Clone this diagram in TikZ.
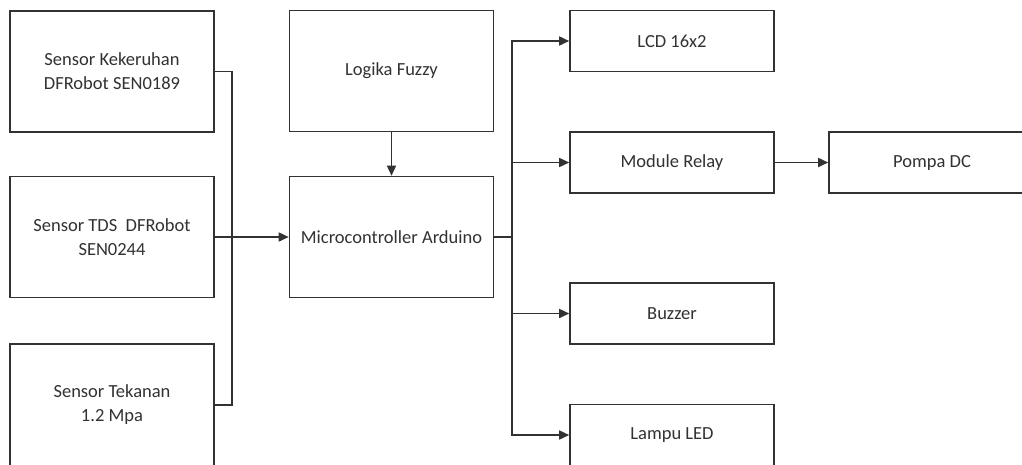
\documentclass[tikz,border=0pt]{standalone}
\usepackage{fontspec}
\setmainfont{Carlito}
\usepackage{xcolor}
\usepackage{tikz}
\usetikzlibrary{arrows.meta,positioning,calc}
\definecolor{lineGray}{RGB}{50,50,50}
\definecolor{textGray}{RGB}{50,50,50}

\begin{document}
\begin{tikzpicture}[x=1pt,y=-1pt,
          blok/.style={rectangle,draw=lineGray,line width=1.6pt,
                       minimum width=204pt,minimum height=121pt,align=center,
                       text=textGray,font=\fontsize{18.5}{24}\selectfont,inner sep=0pt},
          kecil/.style={blok,minimum height=61pt},
          panah/.style={draw=lineGray,line width=1.6pt,
                        -{Triangle[length=10pt,width=9pt]}},
          garis/.style={draw=lineGray,line width=1.6pt},
        ]
        \clip (0,0) rectangle (1022,464);
        \fill[white] (0,0) rectangle (1022,464);
        % sensor
        \node[blok] (kek) at (112,71.5){Sensor Kekeruhan\\DFRobot SEN0189};
        \node[blok] (tds) at (112,237){Sensor TDS~ DFRobot\\SEN0244};
        \node[blok,minimum height=122pt] (tek) at (112,405){Sensor Tekanan\\1.2 Mpa};
        % kontrol
        \node[blok] (fuzzy) at (391.5,71){Logika Fuzzy};
        \node[blok] (mcu) at (391.5,237){Microcontroller Arduino};
        % output
        \node[kecil] (lcd) at (672,41){LCD 16x2};
        \node[kecil] (relay) at (672,162.5){Module Relay};
        \node[kecil] (buzzer) at (672,313.5){Buzzer};
        \node[kecil] (led) at (672,435){Lampu LED};
        \node[kecil,minimum width=206pt] (pompa) at (932,162.5){Pompa DC};
        \coordinate (lbus) at (232,237);
        \coordinate (rbus) at (512,237);
        \foreach \s in {kek,tek}{
          \draw[garis] (\s.east) -| (lbus);
        }
        \draw[panah] (tds.east) -- (mcu.west);
        \draw[panah] (fuzzy.south) -- (mcu.north);
        \draw[garis] (mcu.east) -- (rbus);
        \foreach \o in {lcd,relay,buzzer,led}{
          \draw[panah] (rbus) |- (\o.west);
        }
        \draw[panah] (relay.east) -- (pompa.west);
      \end{tikzpicture}
\end{document}
